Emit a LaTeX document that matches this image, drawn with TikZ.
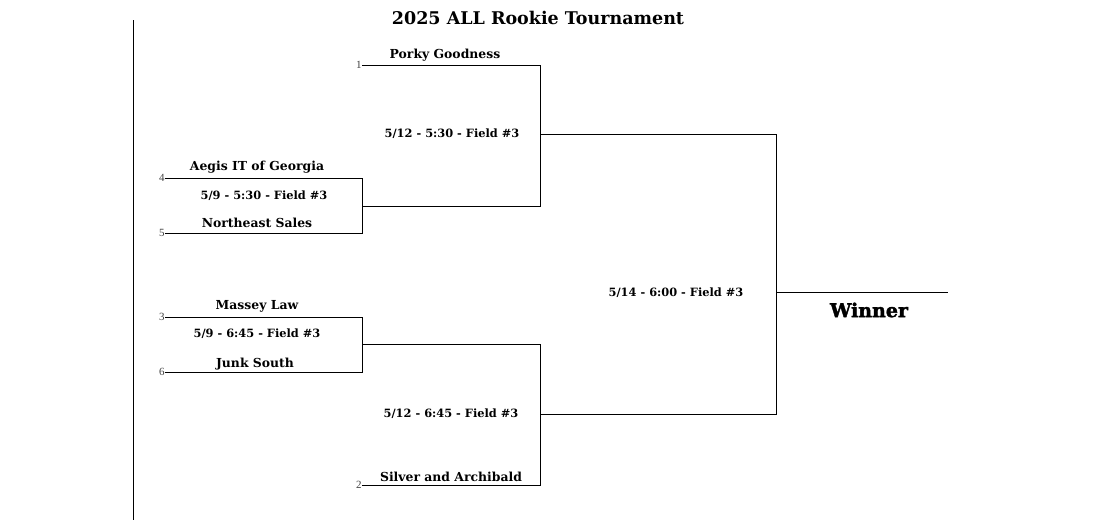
\documentclass[tikz,border=0pt]{standalone}
\usepackage{fontspec}
\setmainfont{DejaVu Serif}
\newfontfamily\numfont{Liberation Serif}
\newfontfamily\winfont[BoldFeatures={FakeBold=2}]{DejaVu Serif}
\begin{document}
\begin{tikzpicture}[x=1pt,y=-1pt,line width=0.9pt,
  team/.style={font=\bfseries\fontsize{12.4}{14}\selectfont,inner sep=0pt},
  game/.style={font=\bfseries\fontsize{11.4}{13}\selectfont,inner sep=0pt},
  seed/.style={font=\numfont\fontsize{11}{12}\selectfont,inner sep=0pt,anchor=east,text=black!75}]
\useasboundingbox (0,0) rectangle (1110,520);
\node[font=\bfseries\fontsize{17.5}{19}\selectfont] (title) at (538,18) {2025 ALL Rookie Tournament};
\coordinate (lt) at (133,20); \coordinate (lb) at (133,520);
\draw[line width=0.6pt] (lt) -- (lb);
% slots
\coordinate (s1a) at (362,65); \coordinate (s1b) at (540,65);
\coordinate (s4a) at (165,178); \coordinate (s4b) at (362,178);
\coordinate (s5a) at (165,233); \coordinate (s5b) at (362,233);
\coordinate (s3a) at (165,317); \coordinate (s3b) at (362,317);
\coordinate (s6a) at (165,372); \coordinate (s6b) at (362,372);
\coordinate (s2a) at (362,485); \coordinate (s2b) at (540,485);
\coordinate (g45) at (540,206); \coordinate (g36) at (540,344);
\coordinate (sfA) at (540,134); \coordinate (sfAb) at (776,134);
\coordinate (sfB) at (540,414); \coordinate (sfBb) at (776,414);
\coordinate (fin) at (776,292); \coordinate (finb) at (948,292);
\draw (s1a) -- (s1b) -- (g45) -- (s4b |- g45);
\draw (s4a) -- (s4b) -- (s5b) -- (s5a);
\draw (s3a) -- (s3b) -- (s6b) -- (s6a);
\draw (s2a) -- (s2b) -- (g36) -- (s3b |- g36);
\draw (sfA) -- (sfAb) -- (sfBb) -- (sfB);
\draw (fin) -- (finb);
% seeds
\node[seed] (n1) at (s1a) {1}; \node[seed] (n4) at (s4a) {4};
\node[seed] (n5) at (s5a) {5}; \node[seed] (n3) at (s3a) {3};
\node[seed] (n6) at (s6a) {6}; \node[seed] (n2) at (s2a) {2};
% texts
\node[team] (t1) at (445,55) {Porky Goodness};
\node[game] (gA) at (452,134) {5/12 - 5:30 - Field \#3};
\node[team] (t4) at (257,167) {Aegis IT of Georgia};
\node[game] (gB) at (264,196) {5/9 - 5:30 - Field \#3};
\node[team] (t5) at (257,223) {Northeast Sales};
\node[team] (t3) at (257,306) {Massey Law};
\node[game] (gC) at (257,334) {5/9 - 6:45 - Field \#3};
\node[team] (t6) at (255,364) {Junk South};
\node[game] (gD) at (451,414) {5/12 - 6:45 - Field \#3};
\node[team] (t2) at (451,477) {Silver and Archibald};
\node[game] (gE) at (676,293) {5/14 - 6:00 - Field \#3};
\node[font=\winfont\bfseries\fontsize{19}{21}\selectfont,inner sep=0pt] (win) at (869,310) {Winner};
\end{tikzpicture}
\end{document}
